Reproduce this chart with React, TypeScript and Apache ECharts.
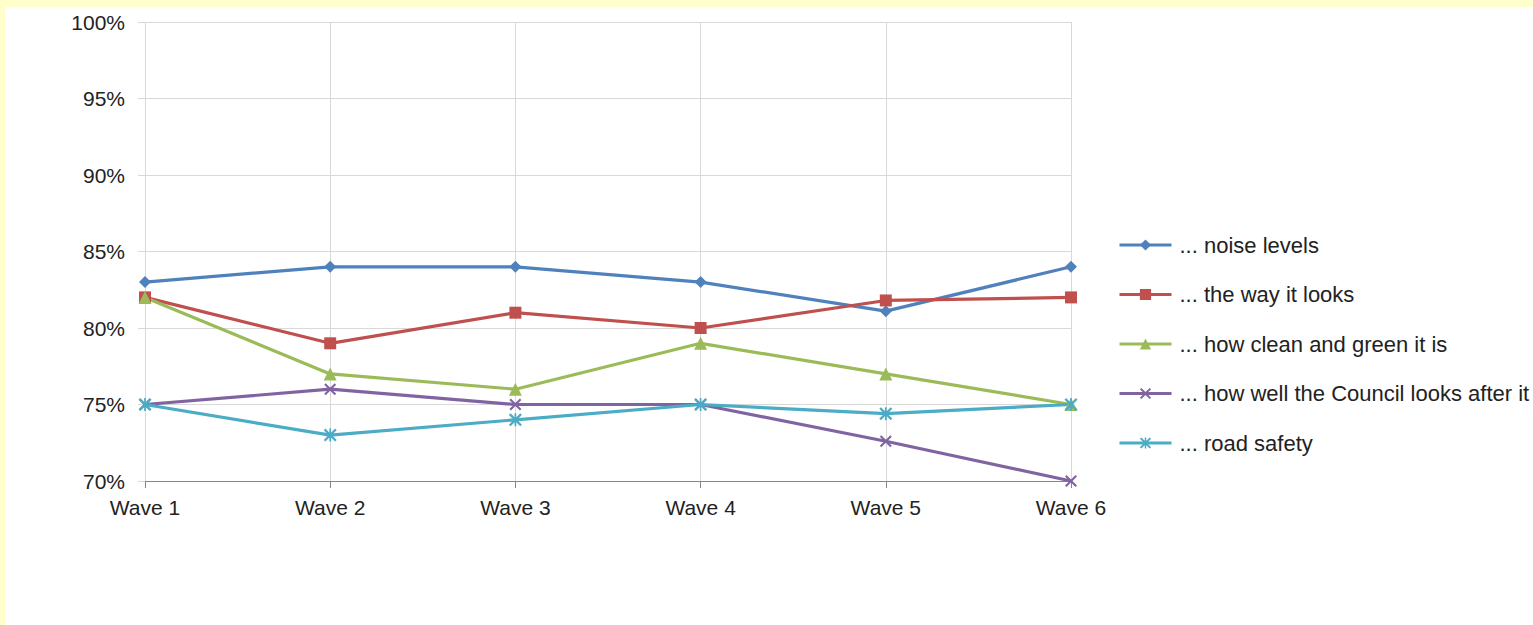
import React, { useEffect, useRef } from "react";
import * as echarts from "echarts";

// Survey waves and share of residents satisfied with each aspect (%)
const categories = ["Wave 1", "Wave 2", "Wave 3", "Wave 4", "Wave 5", "Wave 6"];
const noiseLevels = [83, 84, 84, 83, 81.1, 84];
const wayItLooks = [82, 79, 81, 80, 81.8, 82];
const cleanAndGreen = [82, 77, 76, 79, 77, 75];
const councilCare = [75, 76, 75, 75, 72.6, 70];
const roadSafety = [75, 73, 74, 75, 74.4, 75];

const seriesNames = [
  "... noise levels",
  "... the way it looks",
  "... how clean and green it is",
  "... how well the Council looks after it",
  "... road safety",
];
const yTicks = { min: 70, max: 100, step: 5 };

// Thin cross and asterisk markers
const crossPath =
  "path://M0,1.5L1.5,0L6,4.5L10.5,0L12,1.5L7.5,6L12,10.5L10.5,12L6,7.5L1.5,12L0,10.5L4.5,6Z";
const starPath = crossPath + "M5.2,0L6.8,0L6.8,12L5.2,12Z";

const FONT = "'Liberation Sans', Arial, sans-serif";
const TEXT = "#222";

export default function App() {
  const ref = useRef<HTMLDivElement>(null);

  useEffect(() => {
    if (!ref.current) return;
    const chart = echarts.init(ref.current, undefined, { renderer: "svg" });

    const mk = (
      name: string,
      data: number[],
      color: string,
      symbol: string,
      symbolSize: number
    ) => ({
      name,
      type: "line",
      data,
      symbol,
      symbolSize,
      showAllSymbol: true,
      color,
      lineStyle: { color, width: 3.2 },
      itemStyle: { color, borderWidth: 0 },
      emphasis: { disabled: true },
    });

    chart.setOption({
      animation: false,
      backgroundColor: "#ffffff",
      textStyle: { fontFamily: FONT },
      grid: { left: 140, top: 15, width: 926, height: 459, containLabel: false },
      legend: {
        orient: "vertical",
        left: 1108,
        top: 222,
        itemWidth: 52,
        itemHeight: 14,
        itemGap: 27.5,
        selectedMode: false,
        lineStyle: { width: 3 },
        textStyle: {
          fontFamily: FONT,
          fontSize: 22,
          lineHeight: 21,
          color: TEXT,
          padding: [0, 0, 0, 3],
        },
        data: seriesNames,
      },
      xAxis: {
        type: "category",
        data: categories,
        boundaryGap: false,
        axisLine: { show: true, lineStyle: { color: "#868686", width: 1 } },
        axisTick: { show: true, length: 7, lineStyle: { color: "#868686" } },
        axisLabel: {
          margin: 16,
          fontFamily: FONT,
          fontSize: 21,
          color: TEXT,
        },
        splitLine: { show: true, lineStyle: { color: "#d9d9d9", width: 1 } },
      },
      yAxis: {
        type: "value",
        min: yTicks.min,
        max: yTicks.max,
        interval: yTicks.step,
        axisLine: { show: false },
        axisTick: { show: true, length: 7, lineStyle: { color: "#d9d9d9" } },
        axisLabel: {
          margin: 20,
          fontFamily: FONT,
          fontSize: 21,
          color: TEXT,
          formatter: "{value}%",
        },
        splitLine: { show: true, lineStyle: { color: "#d9d9d9", width: 1 } },
      },
      series: [
        mk(seriesNames[0], noiseLevels, "#4F81BD", "diamond", 12),
        mk(seriesNames[1], wayItLooks, "#C0504D", "rect", 12),
        mk(seriesNames[2], cleanAndGreen, "#9BBB59", "triangle", 13),
        mk(seriesNames[3], councilCare, "#8064A2", crossPath, 12),
        mk(seriesNames[4], roadSafety, "#4BACC6", starPath, 13),
      ],
    });

    return () => chart.dispose();
  }, []);

  return (
    <div
      style={{
        position: "fixed",
        left: 0,
        top: 0,
        width: 1533,
        height: 625,
        background: "#FFFFCC",
        overflow: "hidden",
      }}
    >
      <div
        ref={ref}
        style={{
          position: "absolute",
          left: 5,
          top: 7,
          width: 1528,
          height: 618,
          background: "#ffffff",
        }}
      />
    </div>
  );
}
